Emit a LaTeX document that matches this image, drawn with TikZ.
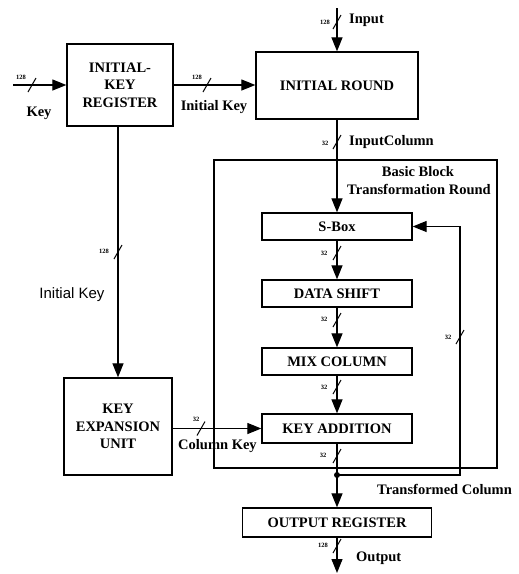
\documentclass[tikz,border=0pt]{standalone}
\usepackage{fontspec}
\setmainfont{Liberation Serif}
\setsansfont{Liberation Sans}
\usetikzlibrary{arrows.meta}
\begin{document}
\begin{tikzpicture}[x=1pt,y=-1pt,
  block/.style={draw,line width=1.3pt,inner sep=0pt,align=center,
    font=\bfseries\fontsize{14.5}{17.5}\selectfont},
  frame/.style={draw,line width=2.8pt,inner sep=0pt},
  wire/.style={line width=1.2pt},
  arrow/.style={wire,-{Triangle[length=14pt,width=11pt]}},
  lbl/.style={inner sep=0pt,font=\bfseries\fontsize{14.5}{17}\selectfont},
  bus/.style={inner sep=0pt,font=\bfseries\fontsize{6.5}{6.5}\selectfont},
  pics/busmark/.style={code={\draw[line width=1pt] (-4,7) -- (4,-7);}}]
\useasboundingbox (0,0) rectangle (519,574);

% main blocks
\node[block,minimum width=106pt,minimum height=82pt] (ikr) at (120,85)
  {INITIAL-\\KEY\\REGISTER};
\node[block,minimum width=162pt,minimum height=67pt] (ir) at (337,85.5)
  {INITIAL ROUND};
\node[frame,minimum width=283pt,minimum height=308pt] (round) at (355.5,314) {};
\node[block,minimum width=150pt,minimum height=27pt] (sbox) at (337,226.5) {S-Box};
\node[block,minimum width=150pt,minimum height=27pt] (ds) at (337,293.5) {DATA SHIFT};
\node[block,minimum width=150pt,minimum height=27pt] (mc) at (337,361.5) {MIX COLUMN};
\node[block,minimum width=150pt,minimum height=29pt] (ka) at (337,428.5) {KEY ADDITION};
\node[block,minimum width=108pt,minimum height=97pt] (keu) at (118,426.5)
  {KEY\\EXPANSION\\UNIT};
\node[block,minimum width=189pt,minimum height=29pt] (or) at (337,522.5)
  {OUTPUT REGISTER};

% free wire ends and the junction
\coordinate (keyin) at (13,85);
\coordinate (inp) at (337,8);
\coordinate (outend) at (337,573);
\coordinate (j) at (337,475);
\coordinate (fb) at (460,226.5);

% connectors
\draw[arrow] (keyin) -- (ikr.west);
\draw[arrow] (ikr.east) -- (ir.west |- ikr.east);
\draw[arrow] (inp) -- (ir.north);
\draw[arrow] (ir.south) -- (sbox.north);
\draw[arrow] (sbox.south) -- (ds.north);
\draw[arrow] (ds.south) -- (mc.north);
\draw[arrow] (mc.south) -- (ka.north);
\draw[wire] (ka.south) -- (j);
\draw[arrow] (j) -- (or.north);
\draw[arrow] (or.south) -- (outend);
\draw[arrow] (j) -| (fb) -- (sbox.east);
\fill (j) circle[radius=3pt];
\draw[arrow] (keu.north |- ikr.south) -- (keu.north);
\draw[arrow] (keu.east |- ka.west) -- (ka.west);

% bus width marks
\pic at (32,85) {busmark};
\node[bus] (w1) at (21,77) {128};
\pic at (207,85) {busmark};
\node[bus] (w2) at (197,77) {128};
\pic at (337,22) {busmark};
\node[bus] (w3) at (325,22) {128};
\pic at (337,142) {busmark};
\node[bus] (w4) at (325,143) {32};
\pic at (337,253) {busmark};
\node[bus] (w5) at (324,253) {32};
\pic at (337,320) {busmark};
\node[bus] (w6) at (324,319) {32};
\pic at (337,387) {busmark};
\node[bus] (w7) at (324,387) {32};
\pic at (337,456) {busmark};
\node[bus] (w8) at (323,455) {32};
\pic at (460,337) {busmark};
\node[bus] (w9) at (448,337) {32};
\pic at (118,252) {busmark};
\node[bus] (w10) at (104,251) {128};
\pic at (201,428.5) {busmark};
\node[bus] (w11) at (196,419) {32};
\pic at (337,546) {busmark};
\node[bus] (w12) at (323,545) {128};

% signal names
\node[lbl] (lkey) at (39,113) {Key};
\node[lbl] (lik) at (214,107) {Initial Key};
\node[lbl,anchor=west] (linput) at (349,20) {Input};
\node[lbl,anchor=west] (lic) at (349,142) {InputColumn};
\node[lbl] (lbb) at (418,172) {Basic Block};
\node[lbl] (ltr) at (419,189) {Transformation Round};
\node[inner sep=0pt,font=\sffamily\fontsize{15}{15}\selectfont] (lik2) at (72,295) {Initial Key};
\node[lbl,anchor=west] (lck) at (178,446) {Column Key};
\node[lbl,anchor=west] (ltc) at (377,489) {Transformed Column};
\node[lbl,anchor=west] (lout) at (356,558) {Output};
\end{tikzpicture}
\end{document}
